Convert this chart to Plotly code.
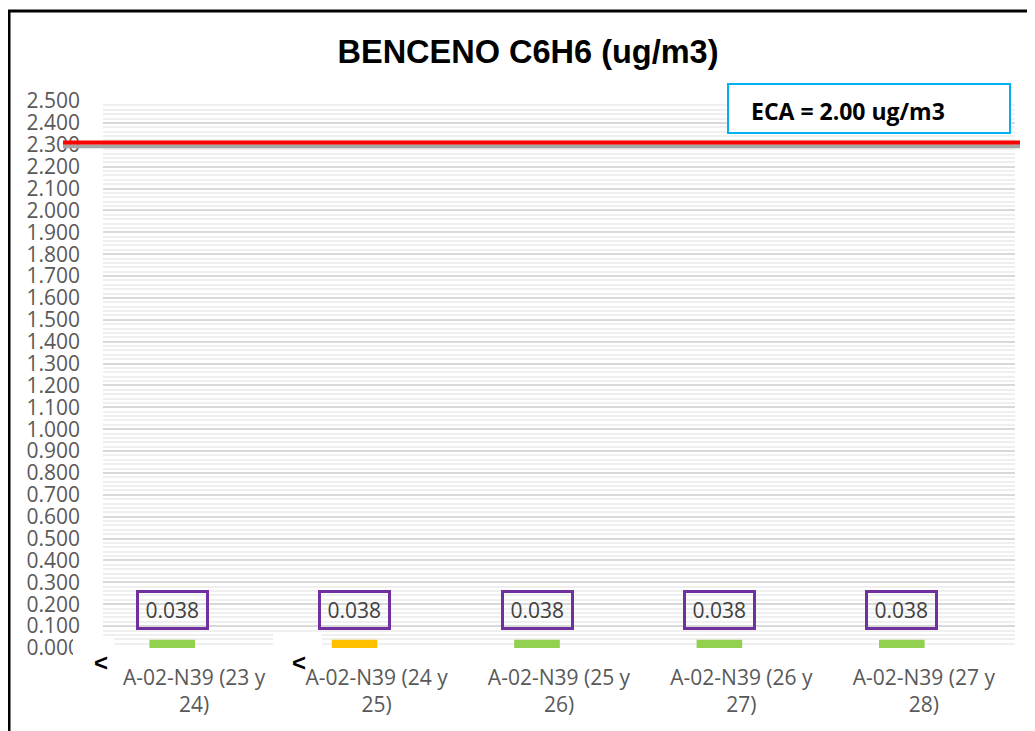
import plotly.graph_objects as go

categories = ["A-02-N39 (23 y<br>24)", "A-02-N39 (24 y<br>25)", "A-02-N39 (25 y<br>26)",
              "A-02-N39 (26 y<br>27)", "A-02-N39 (27 y<br>28)"]
values = [0.038, 0.038, 0.038, 0.038, 0.038]
bar_colors = ["#92D050", "#FFC000", "#92D050", "#92D050", "#92D050"]
label_texts = ["0.038", "0.038", "0.038", "0.038", "0.038"]
eca_line_value = 2.31
eca_text = "ECA = 2.00 ug/m3"
title_text = "BENCENO C6H6 (ug/m3)"

OFF = 8  # page body margin
W, H = 1035 - OFF, 731 - OFF
L, R, T, B = 103, 1015, 101, 648  # plot area in reference pixels
SHIFT_PX = -22  # bars and their labels sit left of the category centres
SHIFT_CAT = SHIFT_PX / ((R - L) / len(categories))
BAR_W = 0.25


def px(x):
    return (x - L) / (R - L)


def py(y):
    return (B - y) / (B - T)


fig = go.Figure()
fig.add_trace(go.Bar(
    x=categories, y=values, marker=dict(color=bar_colors, line=dict(width=0)),
    width=BAR_W, offset=-BAR_W / 2 + SHIFT_CAT, hoverinfo="skip", showlegend=False,
))

for c, v, t in zip(categories, values, label_texts):
    fig.add_annotation(
        x=c, y=v, text="&#8201;" + t + "&#8201;", showarrow=False, xanchor="center",
        yanchor="middle", yshift=30, xshift=SHIFT_PX,
        font=dict(family="Open Sans", size=21, color="#404040"),
        bordercolor="#7030A0", borderwidth=3, borderpad=3, bgcolor="rgba(255,255,255,0)",
    )

# ECA reference line with shadow
fig.add_shape(type="line", xref="paper", yref="y", x0=px(63), x1=px(1020),
              y0=eca_line_value - 0.017, y1=eca_line_value - 0.017,
              line=dict(color="#A6A6A6", width=4))
fig.add_shape(type="line", xref="paper", yref="y", x0=px(63), x1=px(1020),
              y0=eca_line_value, y1=eca_line_value,
              line=dict(color="#FF0000", width=4))

# ECA box
fig.add_shape(type="rect", xref="paper", yref="paper", x0=px(728), x1=px(1010),
              y0=py(133), y1=py(84), line=dict(color="#00B0F0", width=2),
              fillcolor="white", layer="above")
fig.add_annotation(xref="paper", yref="paper", x=px(749), y=py(111), xanchor="left",
                   yanchor="middle", text="<b>" + eca_text + "</b>", showarrow=False,
                   font=dict(family="Open Sans", size=23, color="black"))

# white artefacts and stray marks
fig.add_shape(type="rect", xref="paper", yref="paper", x0=px(73), x1=px(114),
              y0=py(660), y1=py(636), line=dict(width=0), fillcolor="white", layer="above")
fig.add_shape(type="rect", xref="paper", yref="paper", x0=px(273), x1=px(322),
              y0=py(646), y1=py(632), line=dict(width=0), fillcolor="white", layer="above")
for xx in (101, 299):
    fig.add_annotation(xref="paper", yref="paper", x=px(xx), y=py(662), text="<b>&lt;</b>",
                       xanchor="center", yanchor="middle", showarrow=False,
                       font=dict(family="Liberation Sans", size=24, color="black"))

# outer frame
fig.add_shape(type="rect", xref="paper", yref="paper", x0=px(9), x1=px(1045),
              y0=py(745), y1=py(11), line=dict(color="black", width=3),
              fillcolor="rgba(0,0,0,0)", layer="above")

fig.update_layout(
    width=W, height=H,
    margin=dict(l=L - OFF, r=W - (R - OFF), t=T - OFF, b=H - (B - OFF), pad=0),
    paper_bgcolor="white", plot_bgcolor="white",
    title=dict(text="<b>" + title_text + "</b>", x=(528 - OFF) / W, xanchor="center",
               y=1 - (52 - OFF) / H, yanchor="middle",
               font=dict(family="Liberation Sans", size=32.5, color="black")),
)
fig.update_xaxes(
    type="category", range=[-0.5, 4.5], showgrid=False, showline=False,
    ticks="", tickfont=dict(family="Open Sans", size=21, color="#595959"),
    ticklabelstandoff=15,
)
fig.update_yaxes(
    range=[0, 2.5], dtick=0.1, tickformat=".3f", showline=False, zeroline=False,
    gridcolor="#D9D9D9", gridwidth=1.5,
    minor=dict(dtick=0.02, showgrid=True, gridcolor="#EFEFEF", gridwidth=1.5),
    tickfont=dict(family="Open Sans", size=21, color="#595959"),
    ticklabelstandoff=22,
)

fig.write_html("out.html")
